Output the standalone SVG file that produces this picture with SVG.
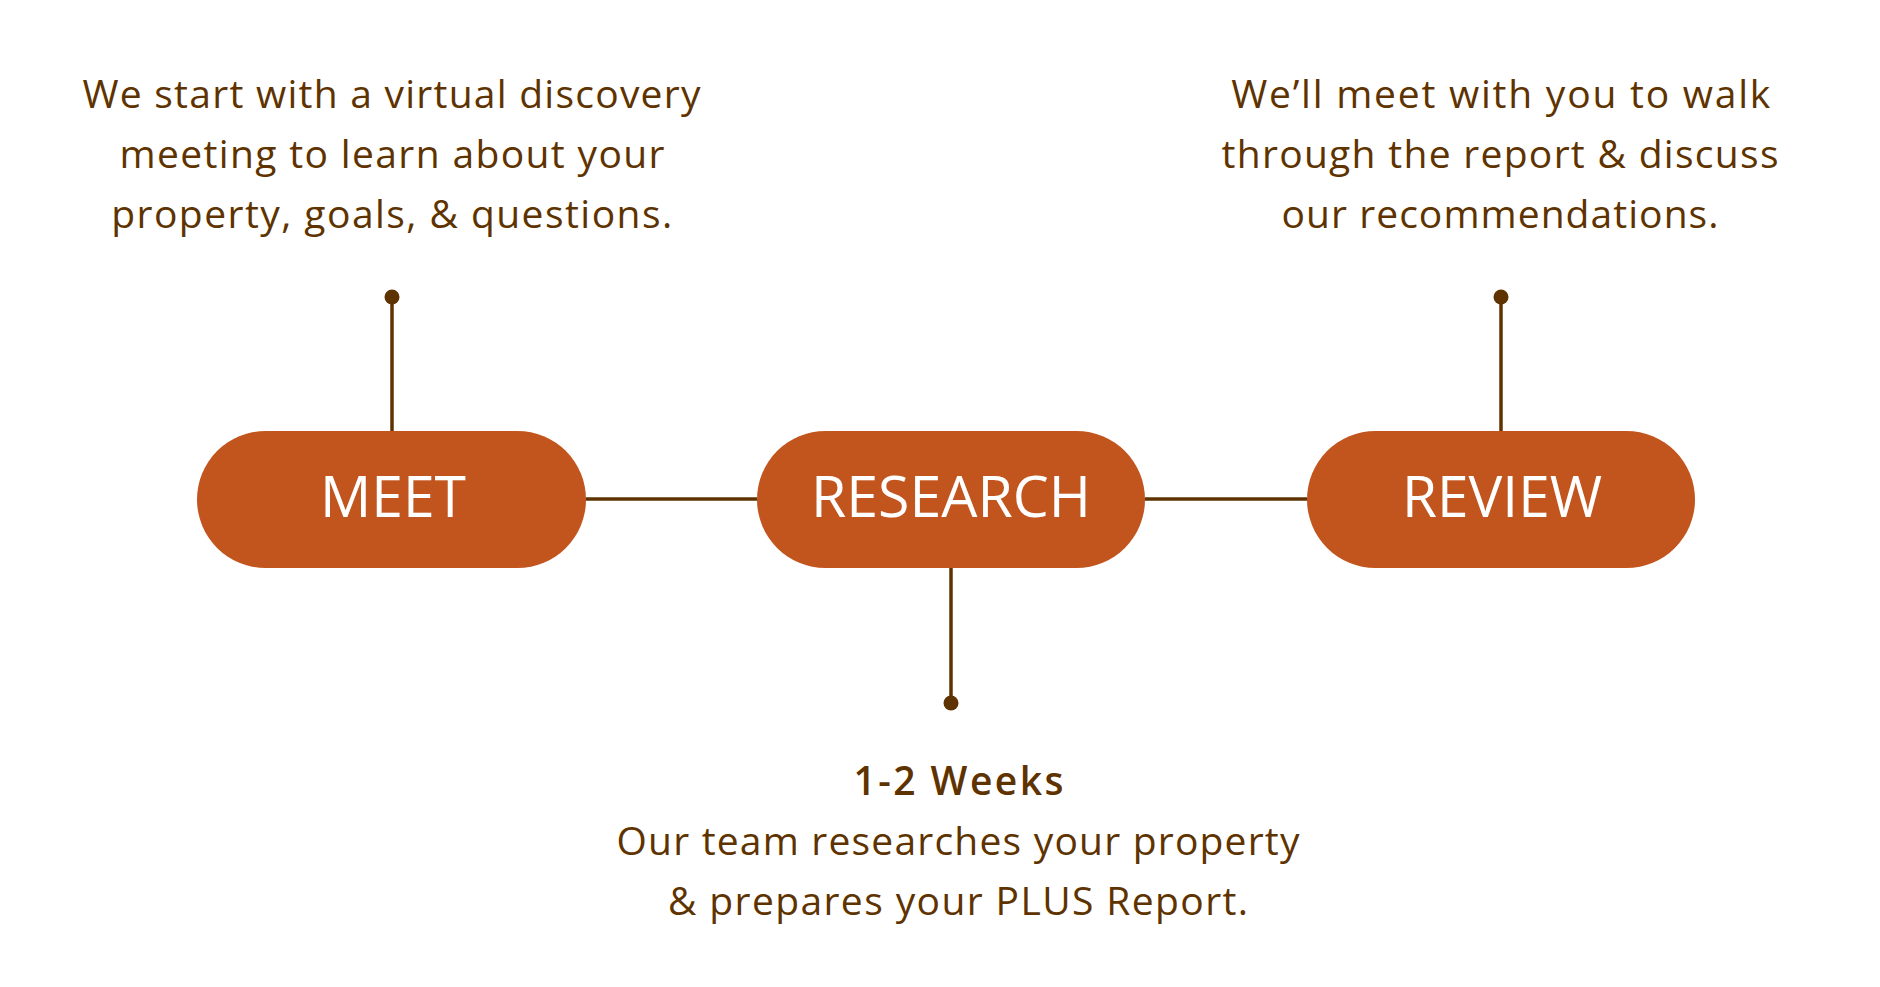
<svg xmlns="http://www.w3.org/2000/svg" width="1880" height="987" viewBox="0 0 1880 987">
<style>
.pill{fill:#C2541D}
.pt{font-family:"Open Sans","Noto Sans",sans-serif;font-size:57px;fill:#ffffff;text-anchor:middle}
.desc{font-family:"Open Sans","Noto Sans",sans-serif;font-size:39px;fill:#5E3300;text-anchor:middle}
.bold{font-weight:600}
.ln{stroke:#5E3300;stroke-width:3.5;fill:none}
.dot{fill:#5E3300}
</style>
<rect width="1880" height="987" fill="#ffffff"/>
<g id="connectors">
<line class="ln" x1="586" y1="499" x2="757" y2="499"/>
<line class="ln" x1="1145" y1="499" x2="1307" y2="499"/>
<line class="ln" x1="392" y1="297" x2="392" y2="431"/>
<circle class="dot" cx="392" cy="297" r="7.5"/>
<line class="ln" x1="1501" y1="297" x2="1501" y2="431"/>
<circle class="dot" cx="1501" cy="297" r="7.5"/>
<line class="ln" x1="951" y1="568" x2="951" y2="703"/>
<circle class="dot" cx="951" cy="703" r="7.5"/>
</g>
<g id="meet">
<rect class="pill" x="197" y="431" width="389" height="137" rx="68.5"/>
<text class="pt" x="393" y="517" textLength="146" lengthAdjust="spacingAndGlyphs">MEET</text>
</g>
<g id="research">
<rect class="pill" x="757" y="431" width="388" height="137" rx="68.5"/>
<text class="pt" x="951" y="517" textLength="280" lengthAdjust="spacingAndGlyphs">RESEARCH</text>
</g>
<g id="review">
<rect class="pill" x="1307" y="431" width="388" height="137" rx="68.5"/>
<text class="pt" x="1502" y="517" textLength="200" lengthAdjust="spacingAndGlyphs">REVIEW</text>
</g>
<g id="meet-desc">
<text class="desc" x="391.5" y="108" textLength="618" lengthAdjust="spacing">We start with a virtual discovery</text>
<text class="desc" x="392" y="168" textLength="545" lengthAdjust="spacing">meeting to learn about your</text>
<text class="desc" x="391.7" y="228" textLength="561" lengthAdjust="spacing">property, goals, &amp; questions.</text>
</g>
<g id="review-desc">
<text class="desc" x="1500.8" y="108" textLength="539" lengthAdjust="spacing">We’ll meet with you to walk</text>
<text class="desc" x="1500" y="168" textLength="557" lengthAdjust="spacing">through the report &amp; discuss</text>
<text class="desc" x="1500" y="228" textLength="437" lengthAdjust="spacing">our recommendations.</text>
</g>
<g id="research-desc">
<text class="desc bold" x="958.5" y="795" textLength="210" lengthAdjust="spacing">1-2 Weeks</text>
<text class="desc" x="958" y="855" textLength="683" lengthAdjust="spacing">Our team researches your property</text>
<text class="desc" x="958" y="915" textLength="580" lengthAdjust="spacing">&amp; prepares your PLUS Report.</text>
</g>
</svg>
